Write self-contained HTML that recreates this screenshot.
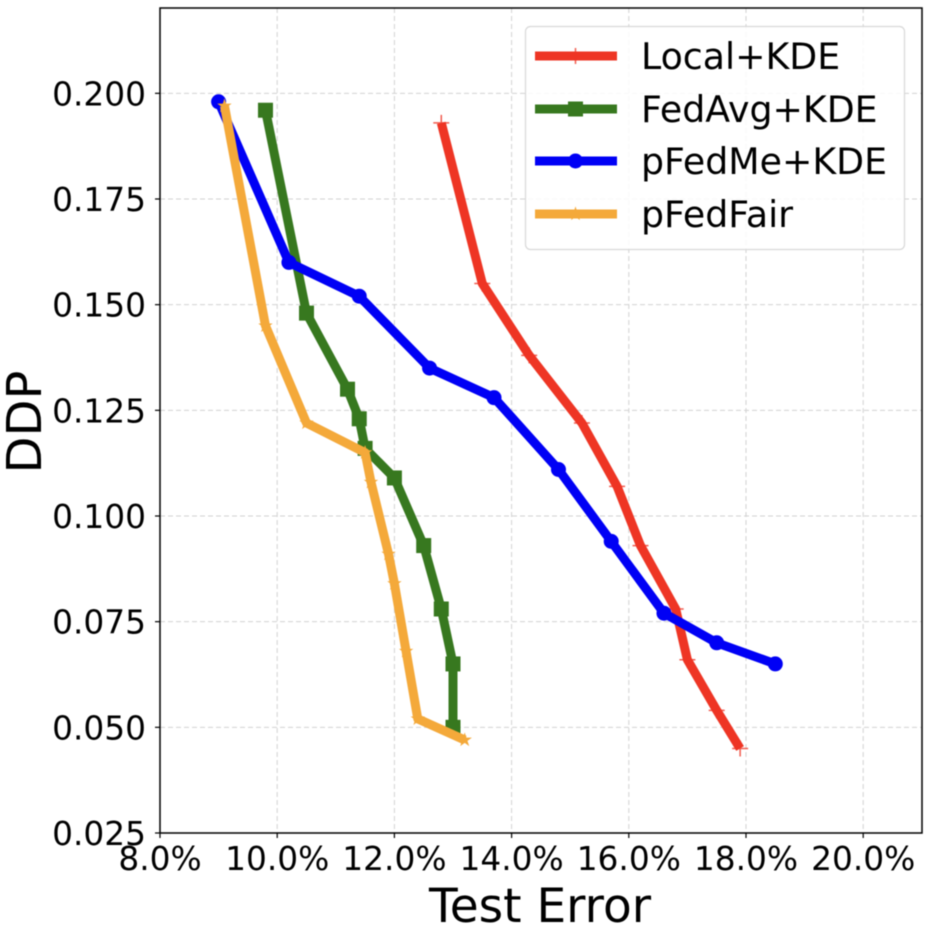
<!DOCTYPE html>
<html lang="en">
<head>
<meta charset="utf-8">
<title>DDP vs Test Error</title>
<style>
html,body{margin:0;padding:0;background:#fff;width:934px;height:930px;overflow:hidden}
svg{display:block;filter:blur(.4px)}
text{font-family:"DejaVu Sans","Liberation Sans",sans-serif;fill:#000}
</style>
</head>
<body>
<svg id="chart" xmlns="http://www.w3.org/2000/svg" width="934" height="930" viewBox="0 0 934 930"></svg>
<script>
const xTickValues = [8, 10, 12, 14, 16, 18, 20];
const xTickLabels = ["8.0%", "10.0%", "12.0%", "14.0%", "16.0%", "18.0%", "20.0%"];
const yTickValues = [0.025, 0.05, 0.075, 0.1, 0.125, 0.15, 0.175, 0.2];
const yTickLabels = ["0.025", "0.050", "0.075", "0.100", "0.125", "0.150", "0.175", "0.200"];
const seriesNames = ["Local+KDE", "FedAvg+KDE", "pFedMe+KDE", "pFedFair"];
const localX = [12.8, 13.5, 14.3, 15.2, 15.8, 16.2, 16.8, 17.0, 17.5, 17.9];
const localY = [0.193, 0.155, 0.138, 0.122, 0.107, 0.093, 0.078, 0.066, 0.054, 0.045];
const fedAvgX = [9.8, 10.5, 11.2, 11.4, 11.5, 12.0, 12.5, 12.8, 13.0, 13.0];
const fedAvgY = [0.196, 0.148, 0.130, 0.123, 0.116, 0.109, 0.093, 0.078, 0.065, 0.050];
const pFedMeX = [9.0, 10.2, 11.4, 12.6, 13.7, 14.8, 15.7, 16.6, 17.5, 18.5];
const pFedMeY = [0.198, 0.160, 0.152, 0.135, 0.128, 0.111, 0.094, 0.077, 0.070, 0.065];
const pFedFairX = [9.1, 9.8, 10.5, 11.5, 11.6, 11.9, 12.0, 12.2, 12.4, 13.2];
const pFedFairY = [0.197, 0.145, 0.122, 0.115, 0.108, 0.091, 0.084, 0.068, 0.052, 0.047];

const NS = "http://www.w3.org/2000/svg";
const svg = document.getElementById("chart");
const plot = {left: 160, right: 922, top: 8, bottom: 833};
const xScale = v => 160 + (v - 8) * 58.6;
const yScale = v => 833 - (v - 0.025) * 4226.7;

function make(tag, attrs, parent) {
  const el = document.createElementNS(NS, tag);
  for (const k in attrs) el.setAttribute(k, attrs[k]);
  (parent || svg).appendChild(el);
  return el;
}

function drawMarker(group, kind, cx, cy, color) {
  if (kind === "plus") {
    const m = make("path", {d: `M${cx - 8} ${cy}H${cx + 8}M${cx} ${cy - 8}V${cy + 8}`, stroke: color, "stroke-width": 1.5, "stroke-opacity": 0.8, fill: "none"}, group);
    
    
  } else if (kind === "square") {
    const m = make("rect", {x: cx - 7.5, y: cy - 7.5, width: 15, height: 15, fill: color}, group);
    
    
  } else if (kind === "circle") {
    const m = make("circle", {cx: cx, cy: cy, r: 7.5, fill: color}, group);
    
    
  } else {
    const pts = [];
    for (let i = 0; i < 10; i++) {
      const r = i % 2 ? 2.9 : 7.6;
      const a = -Math.PI / 2 + i * Math.PI / 5;
      pts.push((cx + r * Math.cos(a)).toFixed(2) + "," + (cy + r * Math.sin(a)).toFixed(2));
    }
    const m = make("polygon", {points: pts.join(" "), fill: color}, group);
    
    
  }
}

/* background */
const bg = make("rect", {x: 0, y: 0, width: 934, height: 930, fill: "#fff"});



/* grid */
const gridGroup = make("g", {stroke: "#d2d2d2", "stroke-width": 1, "stroke-dasharray": "5 3", fill: "none"});


xTickValues.forEach(v => {
  const l = make("line", {x1: xScale(v), x2: xScale(v), y1: plot.top, y2: plot.bottom}, gridGroup);
  
  
});
yTickValues.forEach(v => {
  const l = make("line", {x1: plot.left, x2: plot.right, y1: yScale(v), y2: yScale(v)}, gridGroup);
  
  
});

/* series */
const seriesDefs = [
  {name: seriesNames[0], xs: localX, ys: localY, color: "#ee3524", marker: "plus", key: "local-kde"},
  {name: seriesNames[1], xs: fedAvgX, ys: fedAvgY, color: "#37781f", marker: "square", key: "fedavg-kde"},
  {name: seriesNames[2], xs: pFedMeX, ys: pFedMeY, color: "#0000f5", marker: "circle", key: "pfedme-kde"},
  {name: seriesNames[3], xs: pFedFairX, ys: pFedFairY, color: "#f4a93a", marker: "star", key: "pfedfair"}
];
seriesDefs.forEach(s => {
  const g = make("g", {});
  
  
  const pts = s.xs.map((x, i) => xScale(x).toFixed(1) + "," + yScale(s.ys[i]).toFixed(1)).join(" ");
  const line = make("polyline", {points: pts, fill: "none", stroke: s.color, "stroke-width": 9, "stroke-linejoin": "round", "stroke-linecap": "butt"}, g);
  
  
  s.xs.forEach((x, i) => drawMarker(g, s.marker, xScale(x), yScale(s.ys[i]), s.color));
});

/* frame */
const frame = make("rect", {x: plot.left, y: plot.top, width: plot.right - plot.left, height: plot.bottom - plot.top, fill: "none", stroke: "#000", "stroke-width": 1.5});



/* ticks */
xTickValues.forEach((v, i) => {
  const t = make("line", {x1: xScale(v), x2: xScale(v), y1: plot.bottom, y2: plot.bottom + 5, stroke: "#000", "stroke-width": 1.2});
  
  
  const lab = make("text", {x: xScale(v), y: 870, "text-anchor": "middle", "font-size": 32.8});
  lab.textContent = xTickLabels[i];
  
  
});
yTickValues.forEach((v, i) => {
  const t = make("line", {x1: plot.left - 5, x2: plot.left, y1: yScale(v), y2: yScale(v), stroke: "#000", "stroke-width": 1.2});
  
  
  const lab = make("text", {x: 146, y: yScale(v) + 12, "text-anchor": "end", "font-size": 32.8});
  lab.textContent = yTickLabels[i];
  
  
});

/* axis titles */
const xTitle = make("text", {x: 540, y: 922, "text-anchor": "middle", "font-size": 47});
xTitle.textContent = "Test Error";


const yTitle = make("text", {x: 0, y: 0, "text-anchor": "middle", "font-size": 48, transform: "translate(41 422) rotate(-90)"});
yTitle.textContent = "DDP";



/* legend */
const legend = make("g", {});


const legendBox = make("rect", {x: 525.5, y: 26.5, width: 379, height: 223, rx: 5, ry: 5, fill: "#fff", "fill-opacity": 0.85, stroke: "#d8d8d8", "stroke-width": 1.2}, legend);


const legendRowY = [56, 109, 161, 214];
seriesDefs.forEach((s, i) => {
  const row = make("g", {}, legend);
  
  
  const y = legendRowY[i];
  const h = make("line", {x1: 535, x2: 617, y1: y, y2: y, stroke: s.color, "stroke-width": 9}, row);
  
  
  drawMarker(row, s.marker, 575.5, y, s.color);
  const lab = make("text", {x: 641, y: y + 13, "font-size": 36.3}, row);
  lab.textContent = s.name;
  
  
});
</script>
</body>
</html>
